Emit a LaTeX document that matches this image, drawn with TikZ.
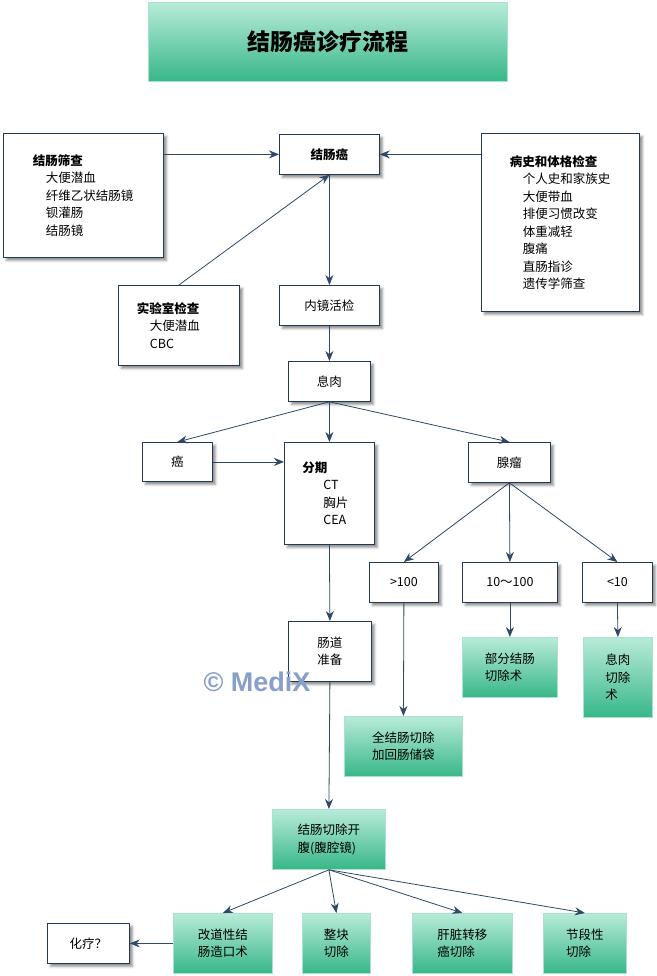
\documentclass[tikz,border=0pt]{standalone}
\usepackage{fontspec}
\setmainfont{Noto Sans CJK SC}
\newfontfamily\wmfont{Liberation Sans}
\usetikzlibrary{arrows.meta,shadows.blur}
\definecolor{boxline}{HTML}{223A56}
\definecolor{arrowcol}{HTML}{2E4866}
\definecolor{greentop}{HTML}{B8EBD9}
\definecolor{greenbot}{HTML}{37B788}
\definecolor{greenline}{HTML}{A9E3CD}
\definecolor{wmblue}{HTML}{889ECB}
\newcommand{\listind}[1][13pt]{\hspace*{#1}}
\tikzset{every picture/.style={line width=0.8pt}}
\tikzset{
  wbox/.style={draw=boxline, fill=white, anchor=north west,
    blur shadow={shadow xshift=3pt, shadow yshift=-3pt, shadow blur radius=2.5pt, shadow opacity=45}},
  gbox/.style={draw=greenline, top color=greentop, bottom color=greenbot, anchor=north west},
  arr/.style={draw=arrowcol, -{Stealth[length=10pt,width=8pt]}}
}

\begin{document}
\begin{tikzpicture}[x=1pt, y=-1pt, font=\fontsize{12.5}{17.5}\selectfont]
    \useasboundingbox (0,0) rectangle (656,976);
    \node[gbox, minimum width=359pt, minimum height=79pt, font=\fontsize{23}{28}\selectfont\bfseries] (title) at (148,2) {结肠癌诊疗流程};
    \node[wbox, minimum width=160pt, minimum height=124pt, text width=101pt, align=left] (shaicha) at (3,133) {\textbf{结肠筛查}\\ \listind 大便潜血\\ \listind 纤维乙状结肠镜\\ \listind 钡灌肠\\ \listind 结肠镜};
    \node[wbox, minimum width=100pt, minimum height=40pt, font=\fontsize{12.5}{17.5}\selectfont\bfseries] (jca) at (279,134) {结肠癌};
    \node[wbox, minimum width=158pt, minimum height=178pt, text width=101pt, align=left] (bingshi) at (481,133) {\textbf{病史和体格检查}\\ \listind 个人史和家族史\\ \listind 大便带血\\ \listind 排便习惯改变\\ \listind 体重减轻\\ \listind 腹痛\\ \listind 直肠指诊\\ \listind 遗传学筛查};
    \node[wbox, minimum width=121pt, minimum height=80pt, text width=84pt, align=left] (shiyan) at (118,285) {\textbf{实验室检查}\\ \listind 大便潜血\\ \listind CBC};
    \node[wbox, minimum width=100pt, minimum height=40pt] (neijing) at (279,285) {内镜活检};
    \node[wbox, minimum width=82pt, minimum height=40pt] (xirou) at (288,361) {息肉};
    \node[wbox, minimum width=70pt, minimum height=39pt] (ai) at (142,442) {癌};
    \node[wbox, minimum width=90pt, minimum height=102pt, text width=54pt, align=left] (fenqi) at (284,442) {\textbf{分期}\\ \listind[21pt]CT\\ \listind[21pt]胸片\\ \listind[21pt]CEA};
    \node[wbox, minimum width=82pt, minimum height=40pt] (xianliu) at (468,442) {腺瘤};
    \node[wbox, minimum width=69pt, minimum height=40pt] (gt) at (369,562) {>100};
    \node[wbox, minimum width=95pt, minimum height=40pt] (mid) at (462,562) {10～100};
    \node[wbox, minimum width=70pt, minimum height=40pt] (lt) at (582,562) {<10};
    \node[gbox, minimum width=95pt, minimum height=60pt, align=left] (bufen) at (462,637) {部分结肠\\切除术};
    \node[gbox, minimum width=69pt, minimum height=80pt, align=left] (xrqc) at (583,637) {息肉\\切除\\术};
    \node[wbox, minimum width=83pt, minimum height=60pt, align=center] (changdao) at (288,621) {肠道\\准备};
    \node[gbox, minimum width=118pt, minimum height=60pt, align=left] (quan) at (344,716) {全结肠切除\\加回肠储袋};
    \node[gbox, minimum width=113pt, minimum height=60pt, align=left] (kaifu) at (272,809) {结肠切除开\\腹(腹腔镜)};
    \node[gbox, minimum width=99pt, minimum height=60pt, align=left] (gaidao) at (173,913) {改道性结\\肠造口术};
    \node[gbox, minimum width=68pt, minimum height=60pt, align=center] (zhengkuai) at (302,913) {整块\\切除};
    \node[gbox, minimum width=100pt, minimum height=60pt, align=left] (ganzang) at (412,913) {肝脏转移\\癌切除};
    \node[gbox, minimum width=83pt, minimum height=60pt, align=left] (jieduan) at (543,913) {节段性\\切除};
    \node[wbox, minimum width=82pt, minimum height=40pt] (hualiao) at (47,923) {化疗？};
    \draw[arr] (jca -| shaicha.east) -- (jca.west);
    \draw[arr] (jca -| bingshi.west) -- (jca.east);
    \draw[arr] (shiyan.north) -- (jca.south);
    \foreach \a/\b in {jca/neijing, neijing/xirou, xirou/ai, xirou/fenqi, xirou/xianliu, fenqi/changdao, xianliu/gt, xianliu/mid, xianliu/lt, gt/quan, mid/bufen, lt/xrqc, changdao/kaifu, kaifu/gaidao, kaifu/zhengkuai, kaifu/ganzang, kaifu/jieduan}
        \draw[arr] (\a.south) -- (\b.north);
    \draw[arr] (ai.east) -- (ai.east -| fenqi.west);
    \draw[arr] (gaidao.west |- hualiao) -- (hualiao.east);
    \node[font=\wmfont\bfseries\fontsize{27}{30}\selectfont, text=wmblue] (wm) at (257,682) {© MediX};
\end{tikzpicture}
\end{document}
